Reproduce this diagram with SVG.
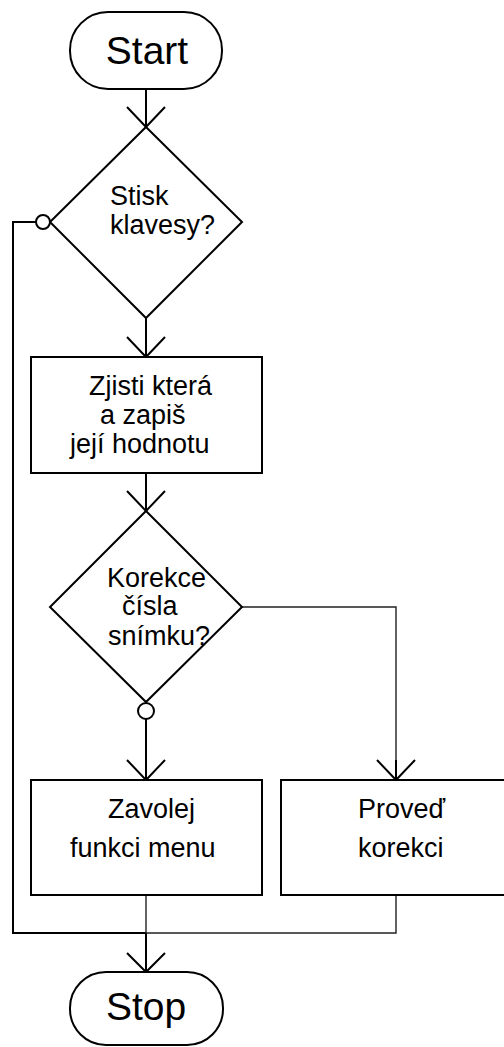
<svg xmlns="http://www.w3.org/2000/svg" width="504" height="1047" viewBox="0 0 504 1047">
<style>
.s{fill:#fff;stroke:#000;stroke-width:2}
.c{fill:none;stroke:#000;stroke-width:2}
.t{fill:none;stroke:#222;stroke-width:1.4}
.a{fill:none;stroke:#000;stroke-width:2}
text{font-family:"Liberation Sans",Arial,sans-serif;fill:#000}
.b{font-size:39px}
.m{font-size:27px}
</style>
<rect width="504" height="1047" fill="#fff"/>
<g id="connectors">
<path class="c" d="M146 89V127"/>
<path class="a" d="M127 107L146 127L165 107"/>
<path class="c" d="M36 222H13V933H146"/>
<path class="c" d="M146 318V357"/>
<path class="a" d="M127 337L146 357L165 337"/>
<path class="c" d="M146 473V511"/>
<path class="a" d="M127 491L146 511L165 491"/>
<path class="t" d="M242 607H396V780"/>
<path class="a" d="M396 760V780"/>
<path class="a" d="M377 760L396 780L415 760"/>
<path class="c" d="M146 719V780"/>
<path class="a" d="M127 760L146 780L165 760"/>
<path class="t" d="M146 895V933"/>
<path class="t" d="M396 895V933H146"/>
<path class="c" d="M146 933V972"/>
<path class="a" d="M127 953L146 972L165 953"/>
</g>
<g id="start">
<rect class="s" x="70" y="12" width="152" height="77" rx="38" ry="38"/>
<text class="b" x="147" y="64" text-anchor="middle">Start</text>
</g>
<g id="dec1">
<polygon class="s" points="146,127 242,222 146,318 50,222"/>
<circle class="s" cx="43" cy="222" r="7"/>
<text class="m" x="110" y="205">Stisk</text>
<text class="m" x="110" y="234">klavesy?</text>
</g>
<g id="box1">
<rect class="s" x="31" y="357" width="231" height="116"/>
<text class="m" x="89" y="395">Zjisti která</text>
<text class="m" x="100" y="424">a zapiš</text>
<text class="m" x="70" y="453">její hodnotu</text>
</g>
<g id="dec2">
<polygon class="s" points="146,511 242,607 146,702 50,607"/>
<circle class="s" cx="146" cy="711" r="8"/>
<text class="m" x="107" y="587">Korekce</text>
<text class="m" x="122" y="615">čísla</text>
<text class="m" x="108" y="645">snímku?</text>
</g>
<g id="box2">
<rect class="s" x="31" y="780" width="231" height="115"/>
<text class="m" x="108" y="818">Zavolej</text>
<text class="m" x="70" y="857">funkci menu</text>
</g>
<g id="box3">
<rect class="s" x="281" y="780" width="240" height="115"/>
<text class="m" x="358" y="818">Proveď</text>
<text class="m" x="358" y="857">korekci</text>
</g>
<g id="stop">
<rect class="s" x="70" y="972" width="153" height="73" rx="36" ry="36"/>
<text class="b" x="146" y="1020" text-anchor="middle">Stop</text>
</g>
</svg>
